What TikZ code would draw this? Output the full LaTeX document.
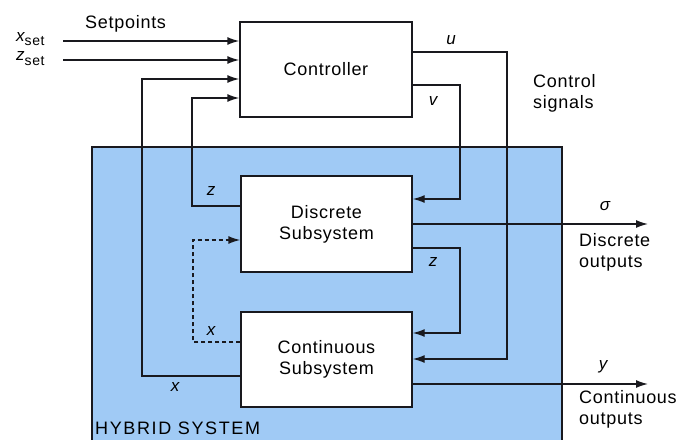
\documentclass[tikz,border=0pt]{standalone}
\usepackage{fontspec}
\setmainfont{Liberation Sans}[LetterSpace=4]
\setsansfont{Liberation Sans}[LetterSpace=4]
\usetikzlibrary{arrows.meta}
\definecolor{hyb}{RGB}{160,202,245}
\definecolor{ln}{RGB}{25,25,30}
\begin{document}
\begin{tikzpicture}[x=1pt,y=-1pt,
  font=\fontsize{18}{21}\selectfont,
  line/.style={draw=ln,line width=1.4pt},
  arr/.style={line,-{Latex[length=12pt,width=8pt]}},
  dasharr/.style={arr,dash pattern=on 4pt off 3pt},
  blk/.style={line,fill=white,rectangle,inner sep=0pt,align=center},
  var/.style={font=\fontsize{17}{19}\selectfont\itshape,inner sep=0pt},
  txt/.style={inner sep=0pt,align=left}]
\useasboundingbox (0,0) rectangle (693,439);
\begin{scope}
\clip (0,0) rectangle (693,439);
\draw[line,fill=hyb] (92,147) rectangle (562,460);
\end{scope}
\node[blk,minimum width=172pt,minimum height=95pt] (ctrl) at (326,69.5) {Controller};
\node[blk,minimum width=171pt,minimum height=96pt] (disc) at (326.5,224) {Discrete\\Subsystem};
\node[blk,minimum width=171pt,minimum height=95pt] (cont) at (326.5,359.5) {Continuous\\Subsystem};
% free ends and bends
\coordinate (xs) at (63,41);
\coordinate (zs) at (63,60);
\coordinate (u1) at (507,52);
\coordinate (u2) at (507,359);
\coordinate (v1) at (460,85);
\coordinate (v2) at (460,199);
\coordinate (so) at (648,224);
\coordinate (z1) at (460,248);
\coordinate (z2) at (460,333);
\coordinate (yo) at (648,384);
\coordinate (zl1) at (192,206);
\coordinate (zl2) at (192,98);
\coordinate (x1) at (142,376);
\coordinate (x2) at (142,79);
\coordinate (d1) at (193,342);
\coordinate (d2) at (193,240);
% connectors
\draw[arr] (xs) -- (ctrl.west |- xs);
\draw[arr] (zs) -- (ctrl.west |- zs);
\draw[arr] (ctrl.east |- u1) -- (u1) -- (u2) -- (cont.east |- u2);
\draw[arr] (ctrl.east |- v1) -- (v1) -- (v2) -- (disc.east |- v2);
\draw[arr] (disc.east |- so) -- (so);
\draw[arr] (disc.east |- z1) -- (z1) -- (z2) -- (cont.east |- z2);
\draw[arr] (cont.east |- yo) -- (yo);
\draw[arr] (disc.west |- zl1) -- (zl1) -- (zl2) -- (ctrl.west |- zl2);
\draw[arr] (cont.west |- x1) -- (x1) -- (x2) -- (ctrl.west |- x2);
\draw[dasharr] (cont.west |- d1) -- (d1) -- (d2) -- (disc.west |- d2);
% labels
\node[txt,anchor=base west] (sp) at (85,28) {Setpoints};
\node[var,anchor=base west] (lxs) at (16,41) {x\raisebox{-5pt}{\upshape\fontsize{14}{15}\selectfont set}};
\node[var,anchor=base west] (lzs) at (16,60) {z\raisebox{-5pt}{\upshape\fontsize{14}{15}\selectfont set}};
\node[var] (lu) at (451,40) {u};
\node[var] (lv) at (433,101) {v};
\node[txt,anchor=west] (cs) at (533,93) {Control\\signals};
\node[var] (lz) at (211,191) {z};
\node[var] (ls) at (605,206) {σ};
\node[txt,anchor=west] (dout) at (579,252) {Discrete\\outputs};
\node[var] (lz2) at (433,262) {z};
\node[var] (lx) at (211,331) {x};
\node[var] (ly) at (603,367) {y};
\node[txt,anchor=west] (cout) at (579,409) {Continuous\\outputs};
\node[var] (lx2) at (175,387) {x};
\node[txt,anchor=west,font=\fontsize{18}{21}\selectfont\addfontfeature{LetterSpace=9}] (hs) at (95,428) {HYBRID SYSTEM};
\end{tikzpicture}
\end{document}
